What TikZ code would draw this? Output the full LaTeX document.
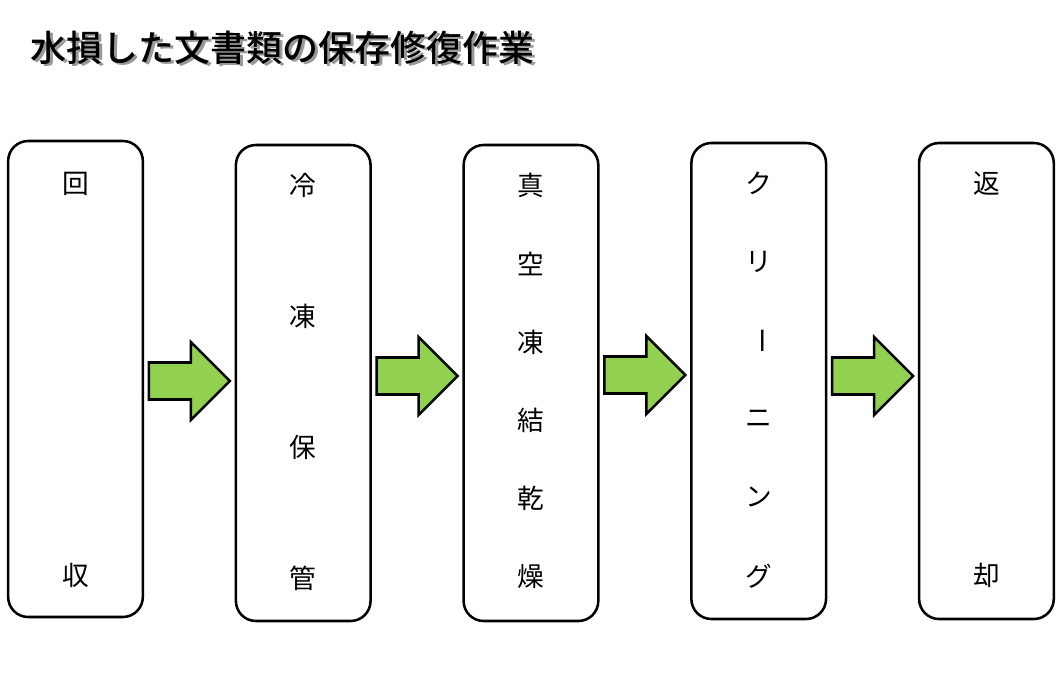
\documentclass[tikz,border=0pt]{standalone}
\usepackage{fontspec}
\usepackage{xcolor}
\usepackage{graphicx}
\usetikzlibrary{positioning,calc}
\newfontfamily\jp{Noto Sans CJK JP}[BoldFont={Noto Sans CJK JP Medium}]
\definecolor{arrowgreen}{HTML}{92D050}

\begin{document}
\begin{tikzpicture}[
    x=0.75pt, y=-0.75pt,
    stepbox/.style={draw, line width=1.9pt, rounded corners=15pt, minimum width=101pt, minimum height=357pt, fill=white},
    glyph/.style={font=\jp\fontsize{20pt}{20pt}\selectfont, inner sep=0pt},
    title/.style={font=\jp\bfseries\fontsize{27pt}{27pt}\selectfont, inner sep=0pt},
    blockarrow/.pic={
        \draw[line width=1.9pt, fill=arrowgreen, line join=miter]
            (-40.5,-18.5) -- (1.5,-18.5) -- (1.5,-39) -- (40.5,0)
            -- (1.5,39) -- (1.5,18.5) -- (-40.5,18.5) -- cycle;
    },
]
    \useasboundingbox (0,0) rectangle (1060,690);
    % Title
    \node[title, text=black!40] (titleshadow) at (285,50) {水損した文書類の保存修復作業};
    \node[title] (title) at (283,48) {水損した文書類の保存修復作業};
    % Boxes
    \node[stepbox] (collect) at (75.5,379) {};
    \node[stepbox, right=67.9pt of collect, yshift=-3pt] (freeze) {};
    \node[stepbox, right=67.9pt of freeze] (vacuum) {};
    \node[stepbox, right=67.9pt of vacuum, yshift=1.5pt] (clean) {};
    \node[stepbox, right=67.9pt of clean] (return) {};
    % Vertical labels
    \foreach \c [count=\i] in {回,収}
        \node[glyph] (collect-\i) at ($(collect.north)+(0,44+392*\i-392)$) {\c};
    \foreach \c [count=\i] in {冷,凍,保,管}
        \node[glyph] (freeze-\i) at ($(freeze.north)+(0,42+131*\i-131)$) {\c};
    \foreach \c [count=\i] in {真,空,凍,結,乾,燥}
        \node[glyph] (vacuum-\i) at ($(vacuum.north)+(0,42+78.2*\i-78.2)$) {\c};
    \foreach \c [count=\i] in {ク,リ,\rotatebox{-90}{ー},ニ,ン,グ}
        \node[glyph] (clean-\i) at ($(clean.north)+(0,42+78.4*\i-78.4)$) {\c};
    \foreach \c [count=\i] in {返,却}
        \node[glyph] (return-\i) at ($(return.north)+(0,42+392*\i-392)$) {\c};
    % Arrows
    \pic at ($(collect.east)!0.5!(freeze.west)+(0,0)$) {blockarrow};
    \pic at ($(freeze.east)!0.5!(vacuum.west)+(0,-7)$) {blockarrow};
    \pic at ($(vacuum.east)!0.5!(clean.west)+(0,-7)$) {blockarrow};
    \pic at ($(clean.east)!0.5!(return.west)+(0,-5)$) {blockarrow};
\end{tikzpicture}
\end{document}
